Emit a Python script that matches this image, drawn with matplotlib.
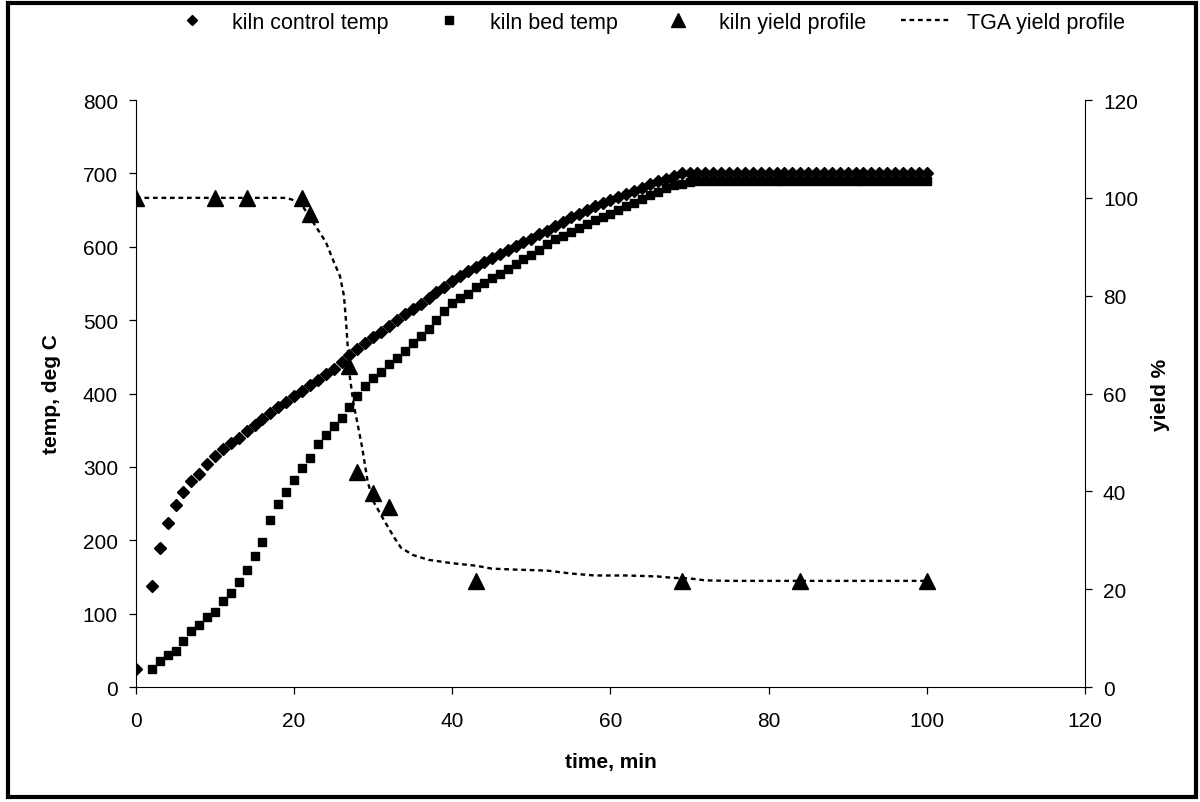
import numpy as np
import matplotlib.pyplot as plt
from matplotlib.patches import Rectangle

plt.rcParams['font.family'] = ['Liberation Sans', 'DejaVu Sans']

# kiln control thermocouple, deg C (one reading per minute)
ctrl_time = [0] + list(range(2, 101))
ctrl_temp = [25, 137, 189, 223, 248, 266, 281, 290, 304, 315,
             324, 332, 340, 349, 357, 365, 373, 381, 389, 397,
             404, 411, 418, 426, 434, 443, 452, 461, 469, 477,
             484, 492, 500, 508, 515, 522, 530, 538, 545, 553,
             560, 567, 573, 579, 585, 590, 596, 601, 606, 611,
             617, 622, 628, 634, 640, 645, 650, 655, 660, 664,
             668, 672, 676, 680, 685, 689, 693, 697, 700] + [700] * 31

# kiln bed temperature, deg C
bed_time = list(range(2, 101))
bed_temp = [25, 36, 43, 49, 63, 76, 85, 95, 102,
            117, 128, 143, 160, 179, 198, 228, 249, 266, 282,
            299, 312, 331, 344, 356, 366, 382, 396, 410, 421,
            429, 440, 449, 458, 469, 478, 488, 500, 512, 524,
            530, 536, 545, 551, 557, 563, 570, 577, 583, 589,
            596, 604, 610, 615, 620, 625, 631, 636, 640, 645,
            650, 655, 660, 665, 670, 675, 680, 684, 686, 688,
            689, 690] + [690] * 28

# yield measured from kiln samples, %
kiln_time = [0, 10, 14, 21, 22, 27, 28, 30, 32, 43, 69, 84, 100]
kiln_yield = [100, 100, 100, 100, 96.8, 65.7, 43.9, 39.6, 36.8, 21.7, 21.7, 21.7, 21.7]

# yield from TGA run, %
tga_time = [0, 5, 10, 15, 19, 20, 21, 22, 23, 24, 25, 25.8, 26.3, 26.6, 26.8,
            27.0, 27.5, 28.0, 28.6, 29.3, 30.0, 31.4, 32.6, 33.5, 35, 37, 40,
            43, 45, 48, 52, 55, 58, 62, 66, 68, 70, 72, 75, 100]
tga_yield = [100, 100, 100, 100, 100, 99.5, 98.5, 96, 93.5, 91, 87, 84, 80, 74, 69,
             64, 58, 54, 49, 42, 38, 34, 30.7, 28.5, 27, 26, 25.3,
             24.8, 24.2, 24, 23.8, 23.2, 22.8, 22.8, 22.6, 22.3, 22.2, 21.8, 21.7, 21.7]

fs = 15

fig = plt.figure(figsize=(12, 8.03), dpi=100)
ax = fig.add_axes([0.1133, 0.1432, 0.7908, 0.731])
ax2 = ax.twinx()

l1, = ax.plot(ctrl_time, ctrl_temp, 'D', color='black', markersize=6.5, linestyle='none')
l2, = ax.plot(bed_time, bed_temp, 's', color='black', markersize=6.2, linestyle='none')
l4, = ax2.plot(tga_time, tga_yield, color='black', lw=1.7, linestyle=(0, (2, 1.6)))
l3, = ax2.plot(kiln_time, kiln_yield, '^', color='black', markersize=12, linestyle='none')

ax.set_xlim(0, 120)
ax.set_ylim(0, 800)
ax2.set_ylim(0, 120)
ax.set_xticks(np.arange(0, 121, 20))
ax.set_yticks(np.arange(0, 801, 100))
ax2.set_yticks(np.arange(0, 121, 20))

for a in (ax, ax2):
    a.spines['top'].set_visible(False)
    a.tick_params(labelsize=fs, direction='out', length=5, width=0.9, pad=8)
ax.tick_params(axis='x', pad=12)
ax.spines['right'].set_visible(False)
ax2.spines['left'].set_visible(False)
ax2.spines['bottom'].set_visible(False)

ax.set_xlabel('time, min', fontsize=fs, fontweight='bold', labelpad=16)
ax.set_ylabel('temp, deg C', fontsize=fs, fontweight='bold', labelpad=16)
ax2.set_ylabel('yield %', fontsize=fs, fontweight='bold', labelpad=9)

fig.legend([l1, l2, l3, l4],
           ['kiln control temp', 'kiln bed temp', 'kiln yield profile', 'TGA yield profile'],
           loc='upper center', bbox_to_anchor=(0.538, 1.008), ncol=4, frameon=False,
           fontsize=15.5, handlelength=2.4, columnspacing=1.6, handletextpad=0.7,
           markerscale=0.85)

# thick outer frame
fig.patches.append(Rectangle((0.007, 0.006), 0.99, 0.989, transform=fig.transFigure,
                             fill=False, edgecolor='black', lw=3))

fig.savefig('out.png', dpi=100)
